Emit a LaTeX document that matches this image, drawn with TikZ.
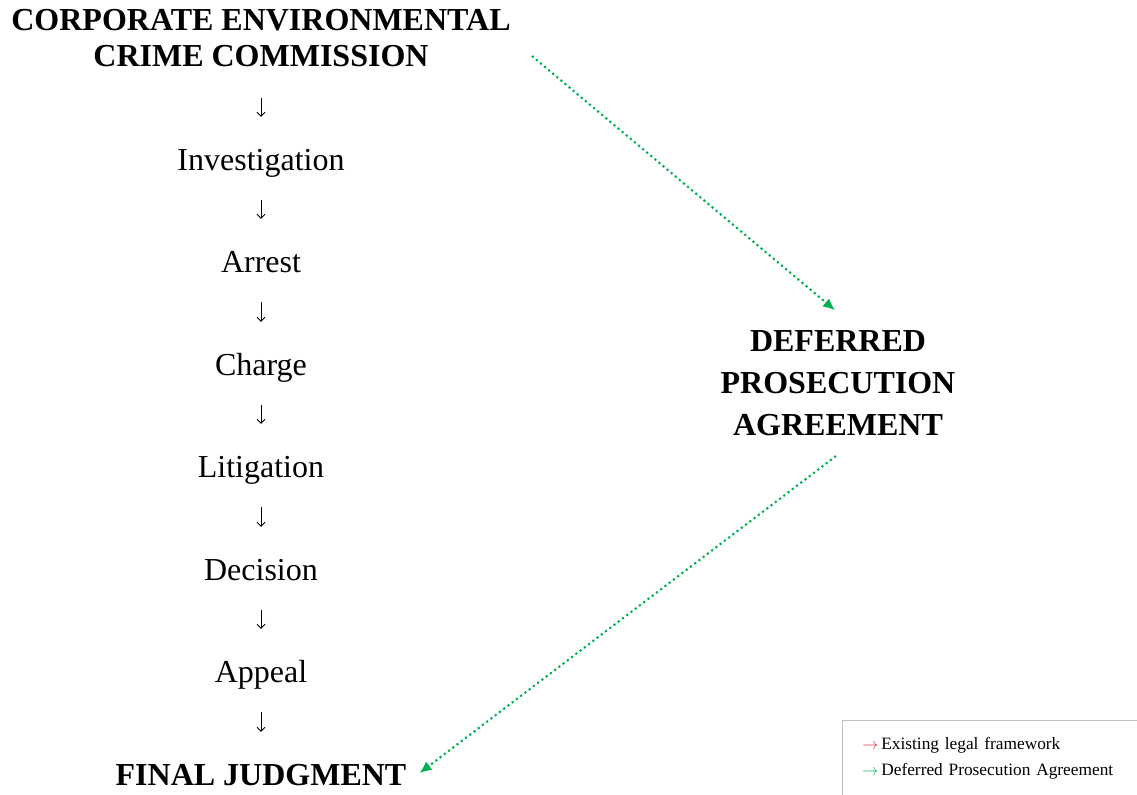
\documentclass[tikz,border=0pt]{standalone}
\usepackage{fontspec}
\setmainfont{Liberation Serif}
\usepackage{xcolor}
\usetikzlibrary{arrows.meta}
\definecolor{dpagreen}{RGB}{0,176,80}
\definecolor{lawred}{RGB}{222,40,52}

\begin{document}
\begin{tikzpicture}[x=0.75pt, y=-0.75pt, >=stealth,
  stepnode/.style={inner sep=0pt, text height=17pt, text depth=5pt, anchor=base, font=\fontsize{24}{27}\selectfont},
  flow/.style={-{Straight Barb[length=3pt,width=6pt]}, line width=0.6pt, shorten <=17.5pt, shorten >=22.7pt},
  dpaflow/.style={-{Latex[length=9pt,width=8pt]}, dpagreen, line width=1.6pt, dash pattern=on 1.6pt off 2.4pt}]

\useasboundingbox (0,0) rectangle (1137,794);

% 
\node[inner sep=0pt, anchor=south, align=center, font=\fontsize{24}{27}\selectfont\bfseries] (cecc) at (261, 67) {CORPORATE ENVIRONMENTAL\\CRIME COMMISSION};

% 
\node[stepnode] (inv) at (261, 170) {Investigation};
\node[stepnode] (arr) at (261, 272) {Arrest};
\node[stepnode] (chg) at (261, 375) {Charge};
\node[stepnode] (lit) at (261, 477) {Litigation};
\node[stepnode] (dec) at (261, 580) {Decision};
\node[stepnode] (app) at (261, 682) {Appeal};
\node[stepnode, font=\fontsize{24}{27}\selectfont\bfseries] (fin) at (261, 785) {FINAL JUDGMENT};

% 
\node[inner sep=0pt, anchor=south, align=center, font=\fontsize{24}{31.5}\selectfont\bfseries] (dpa) at (838, 436) {DEFERRED\\PROSECUTION\\AGREEMENT};

% 
\node[draw=black!25, line width=0.6pt, anchor=north west, align=left, text width=260pt, inner xsep=15pt, inner ysep=12.5pt, font=\fontsize{13}{20}\selectfont] (legend) at (842, 720)
  {\textcolor{lawred}{$\rightarrow$}\,Existing legal framework\\\textcolor{dpagreen}{$\rightarrow$}\,Deferred Prosecution Agreement};

% 
\draw[flow, shorten <=23.3pt] (cecc.south) -- (inv.north);
\foreach \a/\b in {inv/arr, arr/chg, chg/lit, lit/dec, dec/app, app/fin}
  \draw[flow] (\a.south) -- (\b.north);

% 
\draw[dpaflow] ([shift={(21,18)}]cecc.east) -- ([shift={(-3,-20)}]dpa.north);
\draw[dpaflow] ([shift={(-2,20)}]dpa.south) -- ([shift={(13,-4)}]fin.east);

\end{tikzpicture}
\end{document}
